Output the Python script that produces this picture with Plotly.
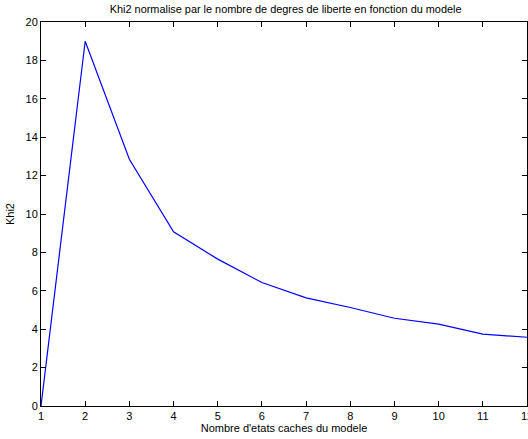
import plotly.graph_objects as go

n_states = [1, 2, 3, 4, 5, 6, 7, 8, 9, 10, 11, 12]
khi2 = [0.0, 19.0, 12.85, 9.07, 7.65, 6.43, 5.63, 5.13, 4.57, 4.26, 3.74, 3.58]
x_ticks = list(range(1, 13))
y_ticks = list(range(0, 21, 2))

fig = go.Figure()
fig.add_trace(go.Scatter(x=n_states, y=khi2, mode="lines",
                         line=dict(color="#0000ff", width=1.2), showlegend=False))

axis_common = dict(showgrid=False, zeroline=False, showline=True, linecolor="black",
                   linewidth=1, mirror="ticks", ticks="inside", ticklen=5,
                   tickcolor="black", tickfont=dict(size=11, color="black"),
                   ticklabeloverflow="allow", automargin=False)

fig.update_layout(
    width=528, height=439,
    margin=dict(l=41, r=1, t=22, b=33),
    paper_bgcolor="white", plot_bgcolor="white",
    font=dict(family="Liberation Sans, Arial, sans-serif", size=11, color="black"),
    title=dict(text="Khi2 normalise par le nombre de degres de liberte en fonction du modele",
               x=0.541, xanchor="center", y=0.979, yanchor="middle",
               font=dict(size=10.9, color="black")),
    xaxis=dict(range=[1, 12], tickvals=x_ticks, ticktext=[str(v) for v in x_ticks],
               title=dict(text="Nombre d'etats caches du modele", standoff=2,
                          font=dict(size=11)), **axis_common),
    yaxis=dict(range=[0, 20], tickvals=y_ticks, ticktext=[str(v) for v in y_ticks],
               title=dict(text="Khi2", standoff=8, font=dict(size=11)), **axis_common),
)

fig.write_html("out.html", config={"displayModeBar": False},
               post_script="document.body.style.margin='0';document.body.style.overflow='hidden';")
